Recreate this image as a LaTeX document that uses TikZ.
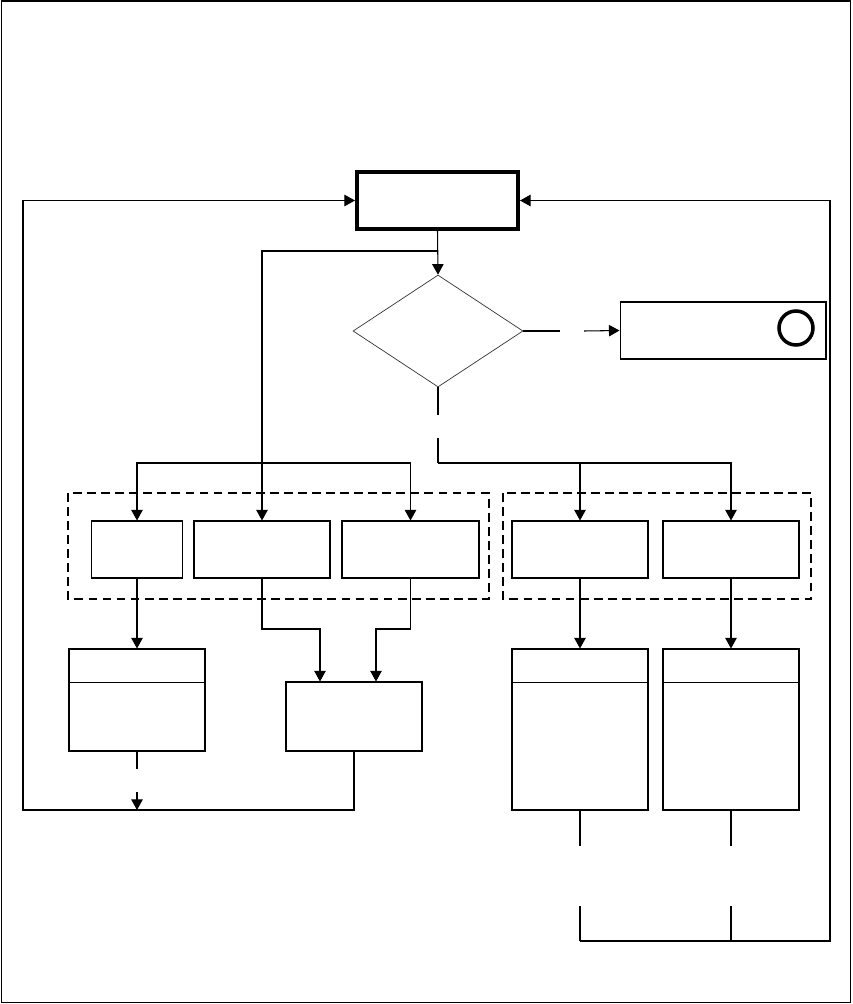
\documentclass[tikz,border=0pt]{standalone}
\usepackage{tikz}
\usetikzlibrary{arrows.meta,positioning,calc,shapes.geometric}

\begin{document}
\begin{tikzpicture}[
    x=0.02cm,y=-0.02cm,
    line width=0.6pt,
    procbox/.style={draw,line width=0.6pt,minimum height=1.14cm,inner sep=0pt},
    memobox/.style={draw,line width=0.6pt,minimum width=2.72cm,inner sep=0pt},
    grpbox/.style={draw,dashed,dash pattern=on 5pt off 3pt,line width=0.6pt},
    >={Triangle[length=6pt,width=6.5pt]}
]
\useasboundingbox (0,0) rectangle (852,1004);
\draw (1.5,1) rectangle (850.5,1002.5);

% top and decision
\node[draw,line width=2.3pt,minimum width=3.22cm,minimum height=1.14cm,inner sep=0pt] (top) at (437.5,200.5) {};
\node[draw,diamond,line width=0.4pt,draw=black!80,minimum width=3.4cm,minimum height=2.24cm,inner sep=0pt] (dec) at (438,331) {};
\node[procbox,minimum width=4.12cm] (stop) at (723,330.5) {};
\node[draw,circle,line width=2pt,minimum size=0.68cm,inner sep=0pt] (stopmark) at (796,328) {};

% middle row
\node[procbox,minimum width=1.82cm] (b1) at (137,549.5) {};
\node[procbox,minimum width=2.72cm] (b2) at (262,549.5) {};
\node[procbox,minimum width=2.74cm] (b3) at (410.5,549.5) {};
\node[procbox,minimum width=2.72cm] (b4) at (580,549.5) {};
\node[procbox,minimum width=2.72cm] (b5) at (731,549.5) {};
\draw[grpbox] (68,493) rectangle (489,599);
\draw[grpbox] (503,493) rectangle (811,599);

% bottom row
\node[memobox,minimum height=2.04cm] (l1) at (137,700) {};
\node[memobox,minimum height=1.38cm] (m1) at (354,716.5) {};
\node[memobox,minimum height=3.22cm] (r1) at (580,729.5) {};
\node[memobox,minimum height=3.22cm] (r2) at (731,729.5) {};
\foreach \n in {l1,r1,r2}
  \draw ($(\n.north west)+(0,34)$) -- ($(\n.north east)+(0,34)$);

% junctions and gaps
\coordinate (j1) at (438,251);
\coordinate (j2) at (262,463);
\coordinate (j3) at (438,463);
\coordinate (g1) at (560,331);
\coordinate (g2) at (584,331);
\coordinate (g3) at (438,415);
\coordinate (g4) at (438,438);
\coordinate (k1) at (320,629);
\coordinate (k2) at (376,629);
\coordinate (g5) at (137,769);
\coordinate (g6) at (137,792);
\coordinate (j4) at (137,810);
\coordinate (c1) at (23,810);
\coordinate (g7) at (580,846);
\coordinate (g8) at (580,906);
\coordinate (g9) at (731,846);
\coordinate (g10) at (731,906);
\coordinate (j5) at (580,941);
\coordinate (j6) at (731,941);
\coordinate (c2) at (830,941);

\draw[->] (top.south) -- (dec.north);
\draw[->] (j1) -| (b2.north);
\draw[->] (j2) -| (b1.north);
\draw[->] (j2) -| (b3.north);

\draw (dec.east) -- (g1);
\draw[->] (g2) -- (stop.west);
\draw (dec.south) -- (g3);
\draw (g4) -- (j3);
\draw[->] (j3) -| (b4.north);
\draw[->] (j3) -| (b5.north);

\draw[->] (b1.south) -- (l1.north);
\draw[->] (b2.south) |- (k1) -- (k1 |- m1.north);
\draw[->] (b3.south) |- (k2) -- (k2 |- m1.north);
\draw[->] (b4.south) -- (r1.north);
\draw[->] (b5.south) -- (r2.north);

\draw (l1.south) -- (g5);
\draw[->] (g6) -- (j4);
\draw[->] (m1.south) |- (c1) |- (top.west);

\draw (r1.south) -- (g7);
\draw (g8) -- (j5);
\draw (r2.south) -- (g9);
\draw (g10) -- (j6);
\draw[->] (j5) -- (c2) |- (top.east);
\end{tikzpicture}
\end{document}
